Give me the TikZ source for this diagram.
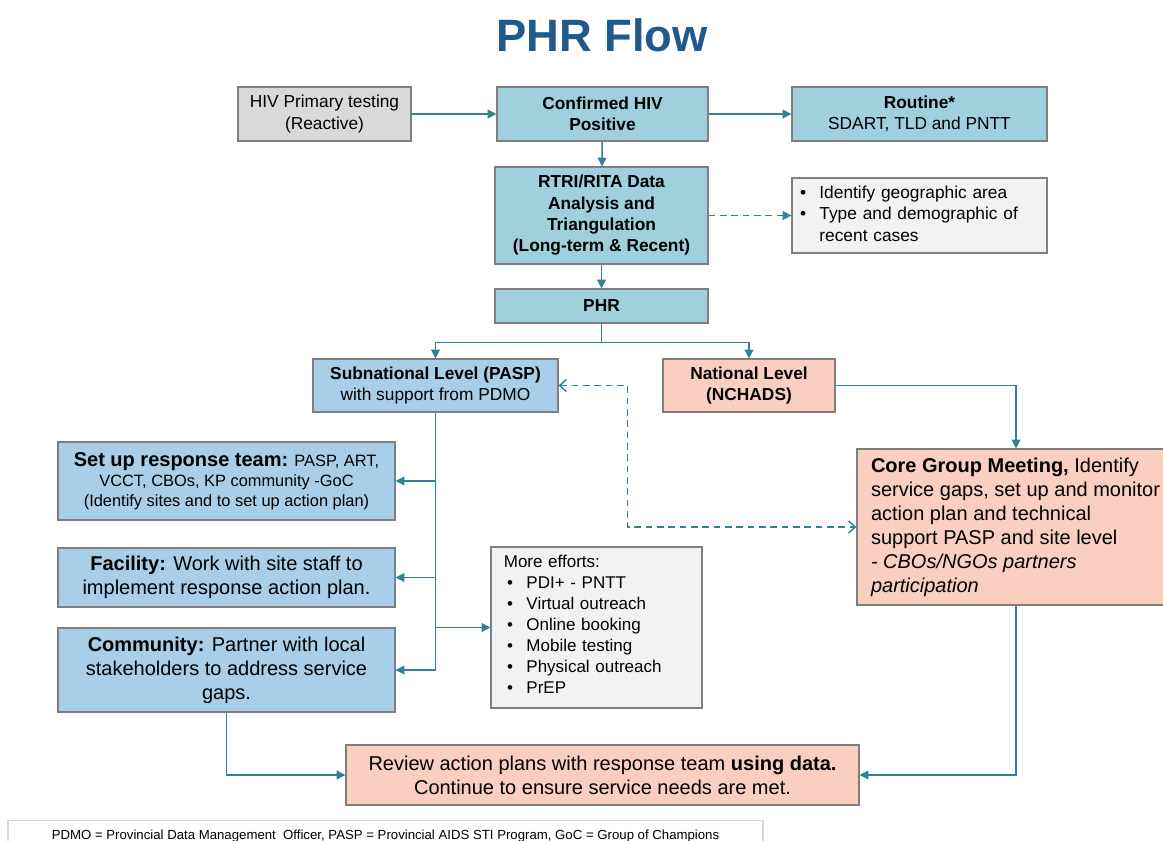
\documentclass[tikz,border=0pt]{standalone}
\usepackage{fontspec}
\setmainfont{Liberation Sans}
\usetikzlibrary{arrows.meta}

\definecolor{linkblue}{HTML}{31809A}
\definecolor{edgegray}{HTML}{7F7F7F}
\definecolor{tealfill}{HTML}{A0CFDD}
\definecolor{bluefill}{HTML}{A8CEE9}
\definecolor{salmonfill}{HTML}{FBCFBF}
\definecolor{grayfill}{HTML}{D9D9D9}
\definecolor{palefill}{HTML}{F2F2F2}
\definecolor{titleblue}{HTML}{1F5A8A}

\begin{document}
\begin{tikzpicture}[x=0.75pt, y=-0.75pt,
    box/.style={draw=edgegray, line width=0.9pt, inner sep=0pt, align=center,
        font=\fontsize{13}{16}\selectfont},
    boldbox/.style={box, font=\fontsize{13}{16}\selectfont\bfseries},
    bigbox/.style={box, font=\fontsize{15}{18}\selectfont},
    link/.style={draw=linkblue, line width=1.1pt, -{Triangle[length=6.5pt, width=6.5pt]}},
    dlink/.style={link, dashed, dash pattern=on 5pt off 3.5pt},
    twoway/.style={draw=linkblue, line width=1.1pt, dashed, dash pattern=on 5pt off 3.5pt,
        {Straight Barb[length=5pt, width=9pt]}-{Straight Barb[length=5pt, width=9pt]}}]
    \useasboundingbox (0,0) rectangle (1163,841);

    \node[font=\fontsize{34}{40}\selectfont\bfseries, text=titleblue] (title) at (602,35) {PHR Flow};

    % top row
    \node[box, fill=grayfill, minimum width=129.75pt, minimum height=40.5pt] (hiv) at (324.5,114)
        {HIV Primary testing\\(Reactive)};
    \node[boldbox, fill=tealfill, minimum width=158.25pt, minimum height=40.5pt] (conf) at (602.5,114)
        {Confirmed HIV\\Positive};
    \node[box, fill=tealfill, minimum width=191.25pt, minimum height=40.5pt] (routine) at (919.5,114)
        {\textbf{Routine*}\\SDART, TLD and PNTT};

    \node[boldbox, fill=tealfill, minimum width=159.75pt, minimum height=72.75pt] (rtri) at (601.5,215.5)
        {RTRI/RITA Data\\Analysis and\\Triangulation\\(Long-term \& Recent)};
    \node[box, fill=palefill, minimum width=191.25pt, minimum height=56.25pt, text width=179.25pt, align=left, inner xsep=6pt] (areas) at (919.5,215.5)
        {\begin{tabular}{@{}l@{\hspace{10pt}}l@{}}
            \textbullet & Identify geographic area\\
            \textbullet & Type and demographic of\\
                        & recent cases
        \end{tabular}};
    \node[boldbox, fill=tealfill, minimum width=159.75pt, minimum height=25.5pt] (phr) at (601.5,306) {PHR};

    % levels
    \node[box, fill=bluefill, minimum width=183.75pt, minimum height=39.75pt] (sub) at (435.5,385.5)
        {\textbf{Subnational Level (PASP)}\\with support from PDMO};
    \node[boldbox, fill=salmonfill, minimum width=129pt, minimum height=39.75pt] (nat) at (749,385.5)
        {National Level\\(NCHADS)};

    % subnational actions
    \node[box, fill=bluefill, minimum width=252.75pt, minimum height=58.5pt, font=\fontsize{12.3}{15}\selectfont] (team) at (226.5,481)
        {{\fontsize{15}{15}\selectfont\bfseries Set up response team:} PASP, ART,\\VCCT, CBOs, KP community -GoC\\(Identify sites and to set up action plan)};
    \node[bigbox, fill=bluefill, minimum width=252.75pt, minimum height=44.25pt] (fac) at (226.5,577.5)
        {\textbf{Facility:} Work with site staff to\\implement response action plan.};
    \node[bigbox, fill=bluefill, minimum width=252.75pt, minimum height=63pt] (com) at (226.5,670)
        {\textbf{Community:} Partner with local\\stakeholders to address service\\gaps.};
    \node[box, fill=palefill, minimum width=158.25pt, minimum height=120.75pt, text width=139pt, align=left, inner xsep=9.5pt, font=\fontsize{12.75}{15.75}\selectfont] (more) at (596.5,627.5)
        {More efforts:\\
        \begin{tabular}[t]{@{\hspace{2.5pt}}l@{\hspace{10pt}}l@{}}
            \textbullet & PDI+ - PNTT\\
            \textbullet & Virtual outreach\\
            \textbullet & Online booking\\
            \textbullet & Mobile testing\\
            \textbullet & Physical outreach\\
            \textbullet & PrEP
        \end{tabular}};

    % national side
    \node[bigbox, fill=salmonfill, minimum width=246pt, minimum height=117pt, text width=225pt, align=flush left, inner xsep=10.5pt] (core) at (1021,527)
        {\textbf{Core Group Meeting,} Identify\\service gaps, set up and monitor\\action plan and technical\\support PASP and site level\\\textit{- CBOs/NGOs partners}\\\textit{participation}};

    \node[bigbox, fill=salmonfill, minimum width=384.75pt, minimum height=45pt] (rev) at (602.5,775)
        {Review action plans with response team \textbf{using data.}\\Continue to ensure service needs are met.};

    \node[draw=grayfill, line width=0.9pt, fill=white, minimum width=566.25pt, minimum height=22.5pt, font=\fontsize{9.9}{11}\selectfont, anchor=north] (foot) at (385.5,820)
        {PDMO = Provincial Data Management\ \ Officer, PASP = Provincial AIDS STI Program, GoC = Group of Champions};

    % connectors
    \draw[link] (hiv) -- (conf);
    \draw[link] (conf) -- (routine);
    \draw[link] (conf) -- (rtri);
    \draw[dlink] (rtri) -- (areas);
    \draw[link] (rtri) -- (phr);
    \draw[link] (phr.south) -- ++(0,19) -| (sub.north);
    \draw[link] (phr.south) -- ++(0,19) -| (nat.north);
    \draw[link] (sub.south) |- (team.east);
    \draw[link] (sub.south) |- (fac.east);
    \draw[link] (sub.south) |- (com.east);
    \draw[link] (sub.south) |- (more.west);
    \draw[twoway] (sub.east) -- ++(69,0) |- (core.west);
    \draw[link] (nat.east) -| ([xshift=-3.75pt]core.north);
    \draw[link] ([xshift=-3.75pt]core.south) |- (rev.east);
    \draw[link] (com.south) |- (rev.west);
\end{tikzpicture}
\end{document}
